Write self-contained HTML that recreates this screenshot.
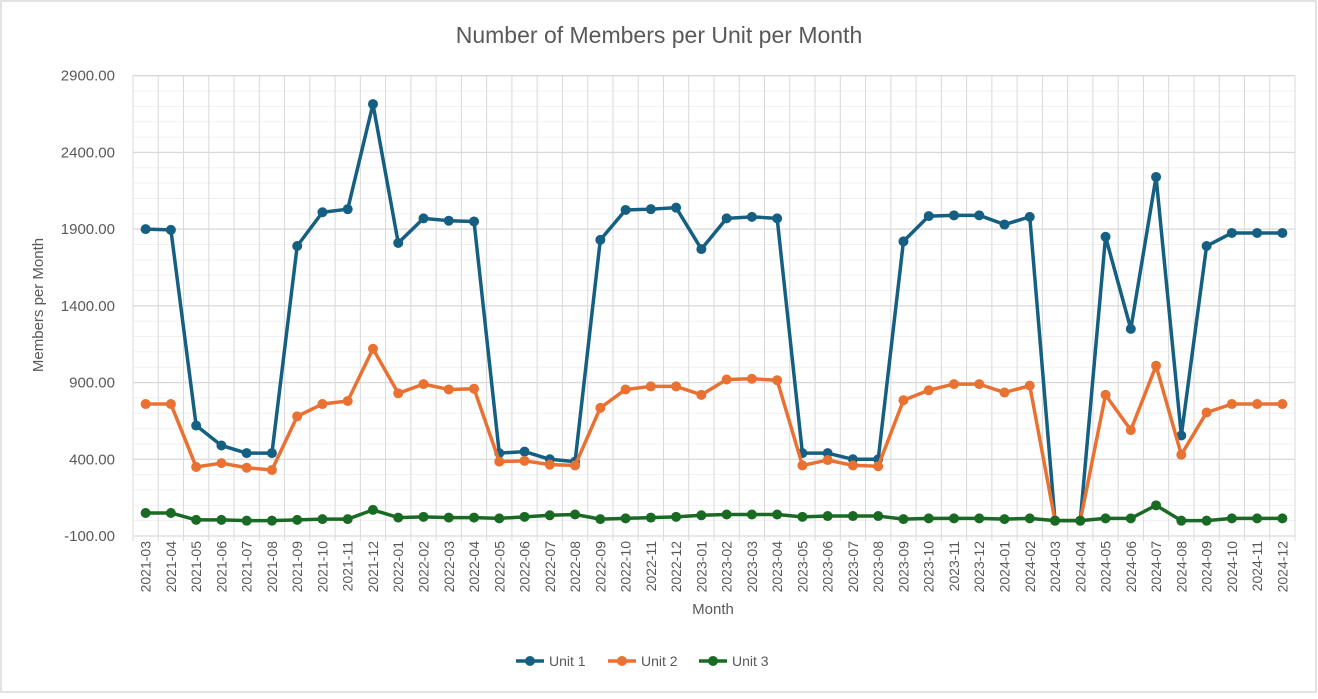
<!DOCTYPE html>
<html><head><meta charset="utf-8"><style>
body{margin:0;background:#fff;font-family:"Liberation Sans",sans-serif;}
svg text{font-family:"Liberation Sans",sans-serif;fill:#595959;}
</style></head><body>
<svg id="chart" width="1318" height="694" xmlns="http://www.w3.org/2000/svg">
<rect x="1" y="1" width="1315" height="691" fill="#fff" stroke="#d9d9d9" stroke-width="1.5"/>
<text x="659" y="43" font-size="23" text-anchor="middle">Number of Members per Unit per Month</text>
<g id="grid"></g>
<g id="yticks"></g>
<g id="xticks"></g>
<g id="series"></g>
<text transform="translate(43,305) rotate(-90)" font-size="15" text-anchor="middle">Members per Month</text>
<text x="713" y="614" font-size="15" text-anchor="middle">Month</text>
<g id="legend"></g>
</svg>
<script>
const months=["2021-03","2021-04","2021-05","2021-06","2021-07","2021-08","2021-09","2021-10","2021-11","2021-12","2022-01","2022-02","2022-03","2022-04","2022-05","2022-06","2022-07","2022-08","2022-09","2022-10","2022-11","2022-12","2023-01","2023-02","2023-03","2023-04","2023-05","2023-06","2023-07","2023-08","2023-09","2023-10","2023-11","2023-12","2024-01","2024-02","2024-03","2024-04","2024-05","2024-06","2024-07","2024-08","2024-09","2024-10","2024-11","2024-12"];
const unit1=[1900,1895,620,490,440,440,1790,2010,2030,2715,1810,1970,1955,1950,440,450,400,385,1830,2025,2030,2040,1770,1970,1980,1970,440,440,400,400,1820,1985,1990,1990,1930,1980,0,0,1850,1250,2240,555,1790,1875,1875,1875];
const unit2=[760,760,350,375,345,330,680,760,780,1120,830,890,855,860,385,390,365,360,735,855,875,875,820,920,925,915,360,395,360,355,785,850,890,890,835,880,0,0,820,590,1010,430,705,760,760,760];
const unit3=[50,50,5,5,0,0,5,10,10,70,20,25,20,20,15,25,35,40,10,15,20,25,35,40,40,40,25,30,30,30,10,15,15,15,10,15,0,0,15,15,100,0,0,15,15,15];
const yTickLabels=["-100.00","400.00","900.00","1400.00","1900.00","2400.00","2900.00"];
const yMin=-100,yMax=2900;
const seriesNames=["Unit 1","Unit 2","Unit 3"];
const seriesColors=["#156082","#e97132","#196b24"];
const NS="http://www.w3.org/2000/svg";
const L=133,R=1295,T=75.7,B=536;
const step=(R-L)/months.length;
function xs(i){return L+step*(i+0.5);}
function ys(v){return B-(v-yMin)/(yMax-yMin)*(B-T);}
function mk(tag,attrs,parent){const e=document.createElementNS(NS,tag);for(const k in attrs)e.setAttribute(k,attrs[k]);parent.appendChild(e);return e;}
const grid=document.getElementById('grid');
for(let v=yMin;v<=yMax;v+=100){
  if((v-yMin)%500===0)continue;
  const l=mk('line',{x1:L,x2:R,y1:ys(v),y2:ys(v),stroke:'#f0f0f0','stroke-width':1},grid);
  
  
}
for(let i=0;i<=months.length;i++){
  const x=L+step*i;
  const l=mk('line',{x1:x,x2:x,y1:T,y2:B+5,stroke:'#d9d9d9','stroke-width':1},grid);
  
  
}
const yt=document.getElementById('yticks');
yTickLabels.forEach(function(s){
  const v=parseFloat(s);
  const l=mk('line',{x1:L,x2:R,y1:ys(v),y2:ys(v),stroke:'#d9d9d9','stroke-width':1.3},grid);
  
  
  const t=mk('text',{x:115,y:ys(v)+5,'font-size':15,'text-anchor':'end'},yt);
  t.textContent=s;
  
  
});
const xt=document.getElementById('xticks');
months.forEach(function(m,i){
  const t=mk('text',{transform:'translate('+(xs(i)+5)+',541) rotate(-90)','font-size':14,'text-anchor':'end'},xt);
  t.textContent=m;
  
  
});
const sg=document.getElementById('series');
[unit1,unit2,unit3].forEach(function(d,si){
  const g=mk('g',{},sg);
  
  
  const p=mk('polyline',{points:d.map(function(v,i){return xs(i)+','+ys(v);}).join(' '),fill:'none',stroke:seriesColors[si],'stroke-width':3.5,'stroke-linejoin':'round'},g);
  
  
  d.forEach(function(v,i){
    const c=mk('circle',{cx:xs(i),cy:ys(v),r:5,fill:seriesColors[si]},g);
    
    
  });
});
const lg=document.getElementById('legend');
const lx=[516,608,699];
seriesNames.forEach(function(n,i){
  const g=mk('g',{},lg);
  
  
  mk('line',{x1:lx[i],x2:lx[i]+28,y1:661,y2:661,stroke:seriesColors[i],'stroke-width':3.5},g);
  mk('circle',{cx:lx[i]+14,cy:661,r:5,fill:seriesColors[i]},g);
  const t=mk('text',{x:lx[i]+33,y:666,'font-size':14},g);
  t.textContent=n;
});
</script>
</body></html>
